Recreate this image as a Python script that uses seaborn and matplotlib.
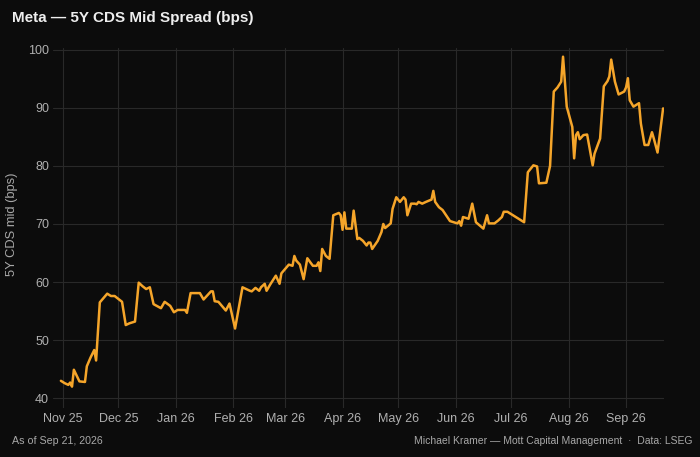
import pandas as pd
import matplotlib
matplotlib.use("Agg")
import matplotlib.pyplot as plt
import matplotlib.dates as mdates
import seaborn as sns

# Meta 5Y CDS mid spread (bps)
dates = [
    "2025-10-31", "2025-11-02", "2025-11-04", "2025-11-05", "2025-11-06", "2025-11-07",
    "2025-11-10", "2025-11-13", "2025-11-14", "2025-11-16", "2025-11-18", "2025-11-19",
    "2025-11-21", "2025-11-25", "2025-11-27", "2025-11-29", "2025-12-03", "2025-12-05",
    "2025-12-07", "2025-12-10", "2025-12-12", "2025-12-14", "2025-12-16", "2025-12-18",
    "2025-12-20", "2025-12-24", "2025-12-26", "2025-12-29", "2025-12-31",
    "2026-01-02", "2026-01-06", "2026-01-07", "2026-01-09", "2026-01-14", "2026-01-16",
    "2026-01-20", "2026-01-21", "2026-01-22", "2026-01-24", "2026-01-28", "2026-01-30",
    "2026-02-02", "2026-02-06", "2026-02-10", "2026-02-11", "2026-02-13", "2026-02-15",
    "2026-02-16", "2026-02-18", "2026-02-19", "2026-02-21", "2026-02-24", "2026-02-26",
    "2026-02-27",
    "2026-03-03", "2026-03-05", "2026-03-06", "2026-03-07", "2026-03-09", "2026-03-11",
    "2026-03-13", "2026-03-16", "2026-03-18", "2026-03-19", "2026-03-20", "2026-03-21",
    "2026-03-23", "2026-03-25", "2026-03-27", "2026-03-30", "2026-03-31",
    "2026-04-01", "2026-04-02", "2026-04-03", "2026-04-06", "2026-04-07", "2026-04-09",
    "2026-04-10", "2026-04-12", "2026-04-14", "2026-04-15", "2026-04-16", "2026-04-17",
    "2026-04-20", "2026-04-22", "2026-04-23", "2026-04-24", "2026-04-27", "2026-04-28",
    "2026-04-30",
    "2026-05-02", "2026-05-04", "2026-05-05", "2026-05-06", "2026-05-08", "2026-05-10",
    "2026-05-11", "2026-05-12", "2026-05-14", "2026-05-16", "2026-05-19", "2026-05-20",
    "2026-05-21", "2026-05-23", "2026-05-25", "2026-05-29",
    "2026-06-02", "2026-06-03", "2026-06-04", "2026-06-05", "2026-06-08", "2026-06-10",
    "2026-06-12", "2026-06-16", "2026-06-18", "2026-06-19", "2026-06-22", "2026-06-24",
    "2026-06-26", "2026-06-27", "2026-06-29",
    "2026-07-08", "2026-07-10", "2026-07-13", "2026-07-15", "2026-07-16", "2026-07-20",
    "2026-07-22", "2026-07-24", "2026-07-26", "2026-07-28", "2026-07-29", "2026-07-31",
    "2026-08-03", "2026-08-04", "2026-08-05", "2026-08-06", "2026-08-07", "2026-08-09",
    "2026-08-11", "2026-08-12", "2026-08-14", "2026-08-15", "2026-08-18", "2026-08-20",
    "2026-08-22", "2026-08-23", "2026-08-24", "2026-08-26", "2026-08-28", "2026-08-31",
    "2026-09-01", "2026-09-02", "2026-09-03", "2026-09-05", "2026-09-08", "2026-09-09",
    "2026-09-11", "2026-09-13", "2026-09-15", "2026-09-16", "2026-09-18", "2026-09-21",
]
spread = [
    43.0, 42.6, 42.3, 42.7, 42.0, 44.9,
    42.9, 42.8, 45.5, 47.0, 48.3, 46.5,
    56.5, 58.0, 57.6, 57.6, 56.6, 52.6,
    52.9, 53.2, 59.9, 59.3, 58.8, 59.1,
    56.2, 55.5, 56.6, 55.9, 54.8,
    55.2, 55.2, 54.7, 58.1, 58.1, 57.0,
    58.4, 58.4, 56.7, 56.6, 55.1, 56.3,
    52.0, 59.1, 58.5, 58.4, 59.0, 58.5,
    59.1, 59.7, 58.5, 59.6, 61.1, 59.7,
    61.5,
    63.0, 62.8, 64.5, 63.7, 63.0, 60.5,
    64.1, 62.8, 62.8, 63.4, 61.9, 65.7,
    64.5, 64.0, 71.5, 71.9, 71.5,
    69.0, 72.0, 69.2, 69.2, 72.3, 67.4,
    67.6, 67.1, 66.3, 66.8, 66.8, 65.7,
    67.1, 68.6, 70.0, 69.3, 70.1, 72.6,
    74.6,
    73.8, 74.6, 74.2, 71.5, 73.5, 73.5,
    73.4, 73.8, 73.5, 73.8, 74.2, 75.7,
    73.8, 72.9, 72.4, 70.5,
    70.1, 70.5, 69.7, 71.2, 70.9, 73.5,
    70.3, 69.2, 71.5, 70.1, 70.1, 70.6,
    71.2, 72.1, 72.1,
    70.3, 78.9, 80.1, 79.9, 77.0, 77.1,
    80.0, 92.8, 93.5, 94.5, 98.8, 90.2,
    86.7, 81.3, 85.3, 85.8, 84.6, 85.3,
    85.4, 83.6, 80.1, 82.1, 84.7, 93.7,
    94.6, 95.4, 98.3, 94.5, 92.3, 92.8,
    93.5, 95.1, 91.3, 90.2, 90.8, 87.3,
    83.6, 83.6, 85.8, 84.7, 82.3, 89.9,
]
y_ticks = [40, 50, 60, 70, 80, 90, 100]

df = pd.DataFrame({"date": pd.to_datetime(dates), "spread": spread})

bg = "#0c0c0c"
sns.set_theme(style="dark", rc={
    "figure.facecolor": bg,
    "axes.facecolor": bg,
    "axes.grid": True,
    "grid.color": "#292929",
    "grid.linewidth": 0.8,
})
plt.rcParams["font.family"] = ["Liberation Sans", "DejaVu Sans"]

fig, ax = plt.subplots(figsize=(7, 4.57), dpi=100)
fig.subplots_adjust(left=0.0753, right=0.9486, top=0.895, bottom=0.107)

sns.lineplot(data=df, x="date", y="spread", ax=ax, color="#f5a52a", linewidth=1.8)

ax.set_xlim(pd.Timestamp("2025-10-26 14:00"), pd.Timestamp("2026-09-21 12:00"))
ax.set_ylim(38.3, 100.3)
ax.set_yticks(y_ticks)
ax.xaxis.set_major_locator(mdates.MonthLocator())
ax.xaxis.set_major_formatter(mdates.DateFormatter("%b %y"))
ax.tick_params(axis="x", length=0, colors="#b0b0b0", labelsize=9, pad=3.8)
ax.tick_params(axis="y", length=0, colors="#b0b0b0", labelsize=9, pad=2.7)
for s in ax.spines.values():
    s.set_visible(False)
ax.grid(True, color="#292929", linewidth=0.8)
ax.set_xlabel("")
ax.set_ylabel("")

# titles and footer
fig.text(12 / 700, 1 - 18 / 457, "Meta — 5Y CDS Mid Spread (bps)",
         fontsize=11, fontweight="bold", color="#eeeeee", ha="left", va="center")
fig.text(12 / 700, 1 - 224 / 457, "5Y CDS mid (bps)", rotation=90,
         fontsize=9.3, color="#a8a8a8", ha="center", va="center")
fig.text(12 / 700, 1 - 441 / 457, "As of Sep 21, 2026",
         fontsize=7.7, color="#a8a8a8", ha="left", va="center")
fig.text(692 / 700, 1 - 441 / 457,
         "Michael Kramer — Mott Capital Management  ·  Data: LSEG",
         fontsize=7.5, color="#a8a8a8", ha="right", va="center")

fig.savefig("out.png", dpi=100, facecolor=bg)
